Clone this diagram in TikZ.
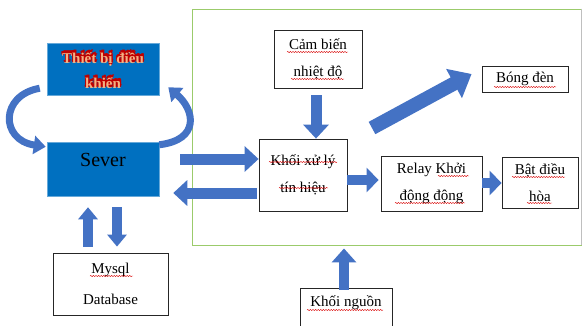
\documentclass[tikz,border=0pt]{standalone}
\usepackage{fontspec}
\setmainfont{Liberation Serif}
\usetikzlibrary{arrows.meta,decorations.pathmorphing}
\definecolor{abl}{RGB}{68,114,196}
\definecolor{bbl}{RGB}{0,112,192}
\definecolor{grn}{RGB}{155,203,107}
\definecolor{org}{RGB}{244,177,131}
\definecolor{dred}{RGB}{192,0,0}
\begin{document}
\begin{tikzpicture}[x=1pt,y=-1pt,
  box/.style={draw=black!85,line width=0.8pt,fill=white,align=center,
    font=\fontsize{15}{27}\selectfont,inner sep=0pt},
  bluebox/.style={fill=bbl,draw=bbl!60!white,line width=0.5pt,inner sep=0pt},
  barrow/.style={abl,line width=11pt,-{Triangle[width=25pt,length=14pt]}},
  sarrow/.style={abl,line width=10pt,-{Triangle[width=19pt,length=12pt]}},
  carrow/.style={abl,line width=7pt,-{Triangle[width=18pt,length=12pt]}},
  squig/.style={red!85!black,line width=0.4pt,decorate,
    decoration={snake,amplitude=0.6pt,segment length=2.6pt}},
  ttxt/.style={font=\fontsize{15}{25}\selectfont\bfseries,align=center}]
\useasboundingbox (0,0) rectangle (582,325);
\clip (0,0) rectangle (582,325);

% frame
\node[draw=grn,line width=0.9pt,minimum width=391pt,minimum height=236pt,inner sep=0pt] (frame) at (387.5,127) {};
\draw[black!25,line width=0.5pt] (frame.north east) ++(-2pt,0) coordinate (fe1) -- (fe1 |- frame.south);

% left blocks
\node[bluebox,minimum width=112pt,minimum height=52pt] (thiet) at (103,69) {};
\node[bluebox,minimum width=112pt,minimum height=54pt] (sever) at (103,169) {};
\foreach \dx/\dy in {0.8/0,-0.8/0,0/0.8,0/-0.8,0.6/0.6,-0.6/0.6,0.6/-0.6,-0.6/-0.6,1.2/1.2}
  \node[ttxt,text=dred] at ([shift={(\dx pt,\dy pt)}]thiet.center) {Thiết bị điều\\khiển};
\node[ttxt,text=org] (thiettxt) at ([yshift=-1.5pt]thiet.center) {Thiết bị điều\\khiển};
\node[font=\fontsize{20}{24}\selectfont] (severtxt) at (103,160) {Sever};

\node[box,minimum width=115pt,minimum height=62pt,font=\fontsize{15}{31}\selectfont] (mysql) at (110.5,284) {Mysql\\Database};

% right blocks
\node[box,minimum width=88pt,minimum height=58pt] (cam) at (318,59) {Cảm biến\\nhiệt độ};
\node[box,minimum width=88pt,minimum height=72pt] (khoi) at (303,175) {Khối xử lý\\tín hiệu};
\node[box,minimum width=101pt,minimum height=55pt] (relay) at (431.5,183.5) {Relay Khởi\\động động};
\node[box,minimum width=76pt,minimum height=51pt] (bat) at (540,182.5) {Bật điều\\hòa};
\node[box,minimum width=86pt,minimum height=26pt] (bong) at (525,79) {Bóng đèn};
\node[box,minimum width=92pt,minimum height=54pt] (nguon) at (346,315) {Khối nguồn\\~};

% curved arrows
\draw[carrow] ([xshift=-7pt,yshift=7pt]thiet.south west) .. controls (0,95) and (0,140) .. ([xshift=-1pt,yshift=-5pt]sever.north west);
\draw[carrow] ([yshift=-3pt]sever.north east) .. controls (200,140) and (195,110) .. ([xshift=9pt,yshift=8pt]thiet.south east);

% sever <-> mysql
\draw[sarrow] ([xshift=-22.5pt,yshift=6pt]mysql.north) -- ([xshift=-15pt,yshift=-11pt]sever.south);
\draw[sarrow] ([xshift=14pt,yshift=-11pt]sever.south) -- ([xshift=6.5pt,yshift=6pt]mysql.north);

% sever <-> khoi
\coordinate (r1) at ([xshift=21pt,yshift=10pt]sever.east);
\draw[barrow] (r1) -- (r1 -| khoi.west);
\coordinate (r2) at ([xshift=-2pt,yshift=-18pt]khoi.west);
\draw[barrow] (r2) -- ([xshift=14pt]sever.east |- r2);

% cam -> khoi
\draw[barrow] ([xshift=-2pt,yshift=-7pt]cam.south) -- ([xshift=-2pt]cam.south |- khoi.north);

% khoi -> relay -> bat
\draw[sarrow,line width=10pt,-{Triangle[width=24pt,length=12pt]}] ([yshift=-5pt]khoi.east) -- ([xshift=-2pt]relay.west |- 0,180);
\draw[sarrow,line width=10pt,-{Triangle[width=24pt,length=12pt]}] ([yshift=0.5pt]relay.east) -- ([xshift=0pt]bat.west |- 0,183);

% khoi -> bong
\coordinate (dt) at (372,128);
\draw[abl,line width=14pt,-{Triangle[width=32pt,length=20pt]}] (dt) -- ([xshift=-10pt,yshift=5pt]bong.west);

% nguon -> frame
\draw[sarrow,-{Triangle[width=24pt,length=14pt]}] ([xshift=-2pt,yshift=-2pt]nguon.north) -- ([xshift=-2pt,yshift=-3pt]nguon.north |- frame.south);

% spell-check underlines
\draw[squig] (90,276) -- (133,276);
\draw[squig] (287,52) -- (348,52);
\draw[squig] (291,79) -- (344,79);
\draw[squig] (269,162) -- (337,162);
\draw[squig] (279,188) -- (328,188);
\draw[squig] (494,87) -- (556,87);
\draw[squig] (438,176) -- (469,176);
\draw[squig] (395,203) -- (465,203);
\draw[squig] (512,177) -- (565,177);
\draw[squig] (527,203) -- (552,203);
\draw[squig] (307,310) -- (383,310);
\end{tikzpicture}
\end{document}
